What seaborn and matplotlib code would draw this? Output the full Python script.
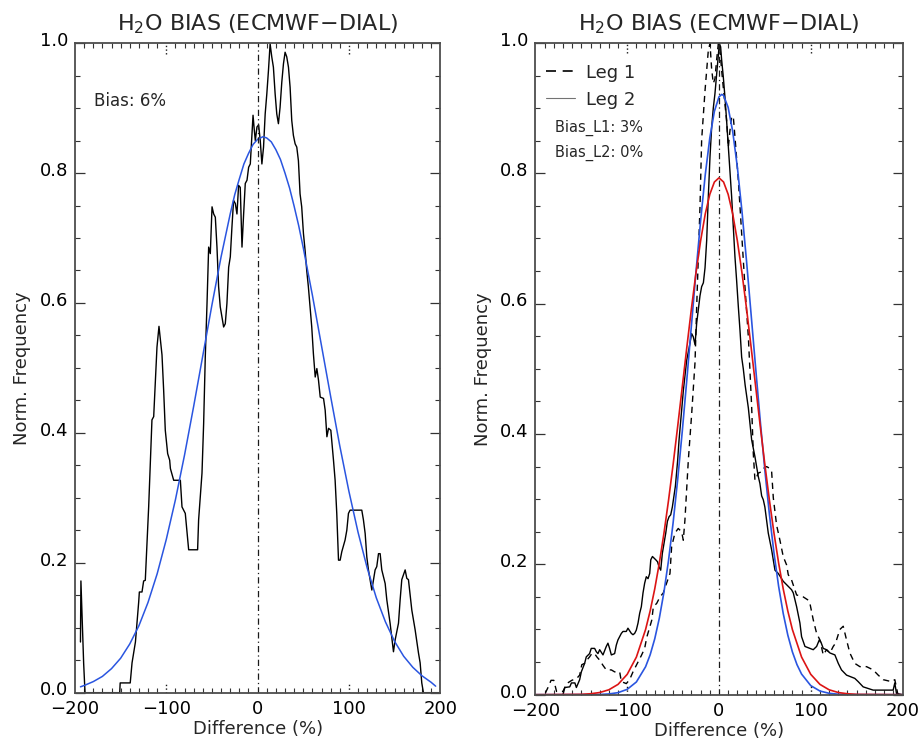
import matplotlib
matplotlib.use('Agg')
import matplotlib.pyplot as plt
from matplotlib.lines import Line2D
from matplotlib.ticker import MultipleLocator, FormatStrFormatter
from matplotlib.transforms import ScaledTranslation
import seaborn as sns

# ---------------- data ----------------
# left panel: histogram (black) and its gaussian fit (blue)
left_hist_x = [-194, -193.5, -192, -190.5, -189, -151, -150.5, -139.5, -137.5, -133.8,
               -130.2, -129.5, -126.6, -124.8, -123, -119.3, -115.7, -113.8, -110.2, -108,
               -104.7, -102.9, -101.1, -98.5, -96.3, -95.5, -91.9, -84.6, -82.8, -79.2,
               -75.5, -65.7, -64.6, -60.9, -59.1, -57.3, -55.4, -53.6, -51.8, -49.9,
               -48.1, -46.3, -44.5, -42.7, -40.9, -37.2, -35.4, -33.6, -31.7, -29.9,
               -28.1, -26.3, -24.4, -22.6, -20.8, -19, -17.1, -15.3, -13.5, -11.6,
               -9.8, -8, -6.1, -5, -3.6, -2.5, -0.7, 1.1, 2.9, 4.7,
               6.5, 8.3, 10.1, 11.9, 13.7, 15.5, 17.3, 19.2, 21, 22.8,
               24.6, 26.5, 28.3, 30.1, 31.9, 33.8, 35.6, 37.4, 39.2, 41.1,
               42.9, 44.7, 46.5, 48.3, 50.2, 52, 53.8, 55.6, 57.5, 59.3,
               61.1, 63.1, 64.9, 66.7, 68.6, 72.2, 74, 75.9, 77.7, 80.2,
               83.1, 84.9, 86.7, 88.6, 90.4, 92.2, 95.8, 97.7, 99.5, 101.3,
               114.1, 115.9, 117.8, 119.6, 121.4, 123.2, 125.1, 126.9, 128.7, 130.5,
               132.4, 134.2, 136, 139.7, 141.5, 145.1, 148.8, 150.6, 154.3, 156.1,
               157.9, 161.6, 163.4, 165.2, 168.9, 172.5, 176.2, 178, 179.8, 181.6,
               200]
left_hist_y = [0.078, 0.172, 0.11, 0.045, 0.0, 0.0, 0.015, 0.015, 0.046, 0.078,
               0.140, 0.155, 0.155, 0.172, 0.173, 0.286, 0.420, 0.425, 0.532, 0.564,
               0.520, 0.466, 0.404, 0.368, 0.358, 0.345, 0.327, 0.327, 0.286, 0.276,
               0.220, 0.220, 0.266, 0.338, 0.414, 0.517, 0.599, 0.686, 0.676, 0.748,
               0.737, 0.732, 0.686, 0.625, 0.594, 0.563, 0.568, 0.599, 0.655, 0.671,
               0.717, 0.758, 0.753, 0.737, 0.781, 0.778, 0.686, 0.737, 0.784, 0.789,
               0.809, 0.814, 0.861, 0.889, 0.866, 0.850, 0.871, 0.874, 0.850, 0.814,
               0.840, 0.891, 0.922, 0.958, 0.999, 0.979, 0.963, 0.922, 0.891, 0.876,
               0.901, 0.940, 0.968, 0.986, 0.979, 0.963, 0.932, 0.881, 0.858, 0.845,
               0.840, 0.819, 0.768, 0.748, 0.707, 0.681, 0.650, 0.625, 0.594, 0.563,
               0.522, 0.486, 0.499, 0.481, 0.455, 0.453, 0.435, 0.394, 0.407, 0.404,
               0.358, 0.327, 0.276, 0.204, 0.204, 0.217, 0.235, 0.250, 0.276, 0.281,
               0.281, 0.266, 0.245, 0.209, 0.189, 0.174, 0.158, 0.174, 0.189, 0.194,
               0.214, 0.214, 0.189, 0.168, 0.143, 0.107, 0.063, 0.081, 0.107, 0.143,
               0.174, 0.189, 0.176, 0.174, 0.127, 0.097, 0.061, 0.046, 0.015, 0.0,
               0.0]

left_fit_x = [-194, -190, -180, -170, -160, -150, -140, -130, -120, -110,
              -100, -90, -80, -70, -60, -50, -40, -30, -25, -20,
              -15, -10, -5, 0, 6, 10, 15, 20, 25, 30,
              35, 40, 45, 50, 60, 70, 80, 90, 100, 110,
              120, 130, 140, 150, 160, 170, 180, 190, 195]
left_fit_y = [0.009, 0.011, 0.017, 0.025, 0.037, 0.053, 0.075, 0.103, 0.139, 0.183,
              0.236, 0.297, 0.366, 0.441, 0.519, 0.597, 0.671, 0.737, 0.767, 0.791,
              0.814, 0.830, 0.844, 0.852, 0.856, 0.854, 0.848, 0.836, 0.821, 0.800,
              0.777, 0.749, 0.719, 0.685, 0.612, 0.534, 0.456, 0.380, 0.310, 0.247,
              0.192, 0.146, 0.109, 0.079, 0.056, 0.039, 0.026, 0.016, 0.010]

# right panel: Leg 1 (dashed), Leg 2 (solid) and two gaussian fits
leg1_x = [-200, -190, -186, -183, -180, -177, -170, -166, -160.4, -155,
          -151.8, -149.5, -146.4, -144, -141, -138.6, -135.5, -133.1, -130, -126.4,
          -122.8, -117.3, -113.7, -108.2, -106.4, -101, -97.4, -93.7, -90.1, -84.6,
          -81, -78.7, -73.3, -71.5, -67.9, -64.3, -60.7, -57.1, -53.4, -51.6,
          -48, -44.4, -40.7, -38.9, -37.1, -33.4, -29.8, -26.1, -24.3, -22.5,
          -20.7, -18.9, -15.2, -11.6, -9.8, -8, -6.2, -4.4, -2.5, -0.7,
          1, 2.9, 5.5, 8.3, 10.2, 12, 13.8, 15.6, 17.4, 21.1,
          24.7, 28.3, 32, 35.6, 37.4, 39.2, 41, 42.8, 46.5, 48.3,
          51.9, 55.5, 57.3, 59.2, 62.8, 66.4, 70, 73.7, 75.5, 79.1,
          84.6, 91.8, 97.3, 99.1, 102.7, 106.4, 110, 113.6, 117.2, 120.9,
          124.5, 127, 131.7, 135.4, 139, 142.6, 148, 153.5, 160.8, 168,
          173.5, 179, 188, 191.6, 195]
leg1_y = [0.0, 0.0, 0.012, 0.022, 0.022, 0.005, 0.005, 0.017, 0.022, 0.025,
          0.030, 0.046, 0.048, 0.053, 0.058, 0.063, 0.063, 0.058, 0.053, 0.045,
          0.038, 0.038, 0.035, 0.035, 0.020, 0.017, 0.023, 0.035, 0.045, 0.060,
          0.071, 0.088, 0.114, 0.135, 0.140, 0.150, 0.156, 0.171, 0.186, 0.227,
          0.248, 0.255, 0.250, 0.237, 0.268, 0.360, 0.430, 0.510, 0.595, 0.672,
          0.748, 0.851, 0.927, 0.989, 0.999, 0.960, 0.938, 0.945, 0.975, 0.999,
          0.990, 0.958, 0.920, 0.881, 0.840, 0.866, 0.887, 0.887, 0.856, 0.789,
          0.708, 0.626, 0.549, 0.442, 0.370, 0.329, 0.334, 0.340, 0.342, 0.347,
          0.350, 0.347, 0.344, 0.302, 0.260, 0.237, 0.212, 0.199, 0.184, 0.176,
          0.153, 0.150, 0.145, 0.140, 0.115, 0.094, 0.084, 0.061, 0.069, 0.064,
          0.074, 0.079, 0.100, 0.105, 0.084, 0.064, 0.048, 0.043, 0.043, 0.038,
          0.030, 0.023, 0.020, 0.023, 0.0]

leg2_x = [-200, -170, -168, -162.6, -160.8, -157, -155.4, -151.8, -150, -146.4,
          -144.6, -141, -139.2, -135.5, -133.7, -131.9, -130, -126.4, -122.8, -121,
          -119.2, -117.3, -113.7, -111.9, -110.1, -106.4, -104.6, -101, -99.2, -95.5,
          -93.7, -91.9, -90.1, -88.2, -86.4, -84.6, -82.8, -81, -79.2, -77.3,
          -75.5, -74.3, -72.5, -68.9, -67, -65.3, -63.5, -61.7, -58, -56.2,
          -54.4, -52.6, -50.8, -47.5, -45, -43.5, -40.6, -38.8, -35.2, -32.3,
          -29.8, -28, -26.1, -24.3, -20.7, -18.9, -17, -15.2, -13.4, -11.6,
          -9.8, -8, -6.2, -4.4, -2.5, -0.7, 0.4, 1.8, 2.9, 4.7,
          6.5, 8.3, 10.2, 12, 13.8, 15.6, 17.4, 19.2, 21.1, 22.9,
          24.7, 26.5, 28.5, 30.5, 32, 33.8, 35.6, 39.2, 42.8, 44.6,
          46.5, 48.3, 50, 53.7, 57.4, 61, 64.6, 70, 75.5, 79.1,
          81, 84.6, 88.2, 90, 93.7, 99.1, 102.7, 106.4, 109.3, 111,
          113.6, 117.2, 120.9, 126.3, 130, 133.5, 139, 148, 151.7, 157.1,
          168, 189.8, 191.6, 193.4, 200]
leg2_y = [0.0, 0.0, 0.011, 0.012, 0.018, 0.018, 0.011, 0.023, 0.035, 0.048,
          0.058, 0.063, 0.071, 0.071, 0.066, 0.063, 0.069, 0.061, 0.074, 0.079,
          0.071, 0.061, 0.063, 0.076, 0.084, 0.094, 0.097, 0.097, 0.102, 0.094,
          0.092, 0.094, 0.099, 0.110, 0.125, 0.135, 0.156, 0.171, 0.181, 0.178,
          0.186, 0.207, 0.212, 0.207, 0.204, 0.196, 0.191, 0.217, 0.248, 0.266,
          0.273, 0.276, 0.288, 0.320, 0.360, 0.391, 0.437, 0.467, 0.513, 0.534,
          0.554, 0.549, 0.537, 0.570, 0.612, 0.626, 0.632, 0.655, 0.697, 0.765,
          0.825, 0.870, 0.900, 0.922, 0.953, 0.984, 0.999, 0.994, 0.974, 0.948,
          0.917, 0.881, 0.840, 0.799, 0.764, 0.718, 0.672, 0.636, 0.595, 0.559,
          0.518, 0.500, 0.475, 0.455, 0.440, 0.416, 0.391, 0.365, 0.335, 0.324,
          0.305, 0.299, 0.288, 0.248, 0.222, 0.191, 0.186, 0.174, 0.166, 0.161,
          0.156, 0.135, 0.110, 0.089, 0.074, 0.071, 0.069, 0.074, 0.084, 0.081,
          0.071, 0.069, 0.064, 0.061, 0.048, 0.038, 0.030, 0.025, 0.020, 0.012,
          0.007, 0.007, 0.018, 0.002, 0.0]

fit1_x = [-200, -140, -130, -120, -110, -100, -90, -80, -75, -70,
          -65, -60, -55, -50, -45, -40, -35, -30, -25, -20,
          -15, -10, -5, 0, 3, 5, 10, 15, 20, 25,
          30, 35, 40, 45, 50, 55, 60, 65, 70, 75,
          80, 85, 90, 100, 110, 120, 130, 140, 200]
fit1_y = [0.0, 0.0002, 0.0003, 0.0011, 0.0031, 0.0082, 0.0195, 0.0428, 0.0612, 0.0857,
          0.1174, 0.1571, 0.2058, 0.2635, 0.3300, 0.4041, 0.4840, 0.5670, 0.6495, 0.7276,
          0.7972, 0.8542, 0.8951, 0.9173, 0.921, 0.9194, 0.9011, 0.8637, 0.8098, 0.7423,
          0.6656, 0.5836, 0.5005, 0.4197, 0.3442, 0.2761, 0.2166, 0.1662, 0.1246, 0.0914,
          0.0656, 0.0461, 0.0316, 0.0139, 0.0056, 0.0021, 0.0007, 0.0002, 0.0]

fit2_x = [-200, -150, -140, -130, -120, -110, -100, -90, -80, -75,
          -70, -65, -60, -55, -50, -45, -40, -35, -30, -25,
          -20, -15, -10, -5, 0, 5, 10, 15, 20, 25,
          30, 35, 40, 45, 50, 55, 60, 65, 70, 75,
          80, 90, 100, 110, 120, 130, 140, 150, 200]
fit2_y = [0.0, 0.0005, 0.0014, 0.0033, 0.0075, 0.0158, 0.0312, 0.0577, 0.0999, 0.1284,
          0.1623, 0.2020, 0.2473, 0.2979, 0.3530, 0.4116, 0.4724, 0.5334, 0.5926, 0.6478,
          0.6966, 0.7373, 0.7677, 0.7866, 0.793, 0.7866, 0.7677, 0.7373, 0.6966, 0.6478,
          0.5926, 0.5334, 0.4724, 0.4116, 0.3530, 0.2979, 0.2473, 0.2020, 0.1623, 0.1284,
          0.0999, 0.0577, 0.0312, 0.0158, 0.0075, 0.0033, 0.0014, 0.0005, 0.0]

title_txt = 'H$_2$O BIAS (ECMWF\u2212DIAL)'
left_note = 'Bias: 6%'
right_notes = ['Bias_L1: 3%', 'Bias_L2: 0%']
leg_labels = ['Leg 1', 'Leg 2']

# ---------------- style ----------------
sns.set_theme(style='white')
plt.rcParams['font.family'] = ['DejaVu Sans']
plt.rcParams['axes.unicode_minus'] = True

BLUE = '#2a55e0'
RED = '#dc1414'
DASH = (0, (4.5, 3.5))
DASHDOT = (0, (5, 2.5, 1, 2.5))

fig = plt.figure(figsize=(9.2, 7.44), dpi=100)
ax1 = fig.add_axes([0.0815, 0.069, 0.397, 0.873])
ax2 = fig.add_axes([0.582, 0.0663, 0.399, 0.876])


def frame(ax):
    ax.set_xlim(-200, 200)
    ax.set_ylim(0, 1.0)
    ax.xaxis.set_major_locator(MultipleLocator(100))
    ax.xaxis.set_minor_locator(MultipleLocator(10))
    ax.yaxis.set_major_locator(MultipleLocator(0.2))
    ax.yaxis.set_minor_locator(MultipleLocator(0.05))
    ax.yaxis.set_major_formatter(FormatStrFormatter('%.1f'))
    ax.tick_params(which='both', direction='in', top=True, right=True,
                   bottom=True, left=True, color='0.2', labelsize=13,
                   labelcolor='black')
    ax.tick_params(axis='y', which='major', length=7, width=0.9, pad=5)
    ax.tick_params(axis='y', which='minor', length=3.6, width=0.8)
    ax.tick_params(axis='x', which='major', length=0, pad=5)
    ax.tick_params(axis='x', which='minor', length=3.6, width=0.8)
    for s in ax.spines.values():
        s.set_color('0.3')
        s.set_linewidth(1.3)
    # dotted major ticks at +-100, like the original
    for v in (-100, 100):
        ax.axvline(v, ymin=0, ymax=0.016, color='k', lw=1, ls=':')
        ax.axvline(v, ymin=0.984, ymax=1, color='k', lw=1, ls=':')
    ax.axvline(0, color='k', lw=0.9, ls=DASHDOT)
    ax.set_title(title_txt, fontsize=16, pad=9)
    ax.set_xlabel('Difference (%)', fontsize=13, labelpad=2)
    ax.set_ylabel('Norm. Frequency', fontsize=13, labelpad=6)
    # y tick labels sit a little above their ticks in the original
    lift = ScaledTranslation(0, 3 / 72, fig.dpi_scale_trans)
    for lab in ax.get_yticklabels():
        lab.set_transform(lab.get_transform() + lift)


# left panel
sns.lineplot(x=left_hist_x, y=left_hist_y, ax=ax1, color='black', lw=1.0,
             sort=False, estimator=None)
sns.lineplot(x=left_fit_x, y=left_fit_y, ax=ax1, color=BLUE, lw=1.1,
             sort=False, estimator=None)
frame(ax1)
ax1.text(0.052, 0.911, left_note, transform=ax1.transAxes, fontsize=12,
         va='center', ha='left')

# right panel
sns.lineplot(x=leg1_x, y=leg1_y, ax=ax2, color='black', lw=1.0,
             linestyle=DASH, sort=False, estimator=None)
sns.lineplot(x=leg2_x, y=leg2_y, ax=ax2, color='black', lw=1.0,
             sort=False, estimator=None)
sns.lineplot(x=fit1_x, y=fit1_y, ax=ax2, color=BLUE, lw=1.2,
             sort=False, estimator=None)
sns.lineplot(x=fit2_x, y=fit2_y, ax=ax2, color=RED, lw=1.2,
             sort=False, estimator=None)
frame(ax2)

handles = [Line2D([], [], color='black', lw=1.2, linestyle=(0, (6, 4))),
           Line2D([], [], color='0.45', lw=0.8)]
leg = ax2.legend(handles, leg_labels, loc='upper left', bbox_to_anchor=(0.0, 0.985),
                 frameon=False, fontsize=13, handlelength=1.6, handletextpad=0.6,
                 labelspacing=0.5, borderaxespad=0.3, borderpad=0.3)
for i, t in enumerate(right_notes):
    ax2.text(0.054, 0.869 - 0.038 * i, t, transform=ax2.transAxes,
             fontsize=10.5, va='center', ha='left')

fig.savefig('out.png', dpi=100)
